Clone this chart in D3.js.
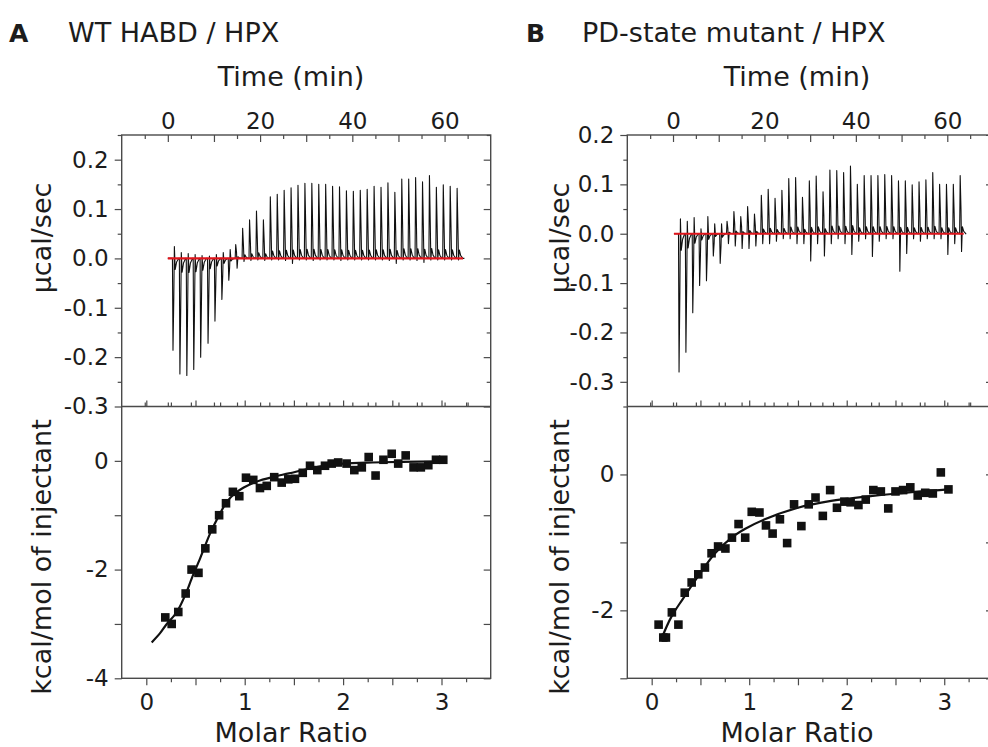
<!DOCTYPE html>
<html><head><meta charset="utf-8">
<script src="https://cdn.jsdelivr.net/npm/d3@7"></script>
<style>
body{margin:0;background:#fff}
svg{display:block}
text{font-family:"DejaVu Sans",Verdana,sans-serif;fill:#1c1c1c}
</style>
</head><body>
<svg id="c" width="988" height="747"></svg>
<script>
// ---------------- DATA ----------------
// Panel A: raw thermogram (injection times in min, peak heights in µcal/sec)
const injTimesA = [1.0,2.5,4.0,5.5,7.0,8.6,10.1,11.6,13.1,14.6,16.1,17.6,19.1,20.6,22.1,23.6,25.1,26.6,28.1,29.6,31.1,32.6,34.1,35.6,37.1,38.6,40.1,41.6,43.1,44.6,46.1,47.6,49.1,50.6,52.1,53.6,55.1,56.6,58.1,59.6,61.1,62.6];
const peaksA = [-0.186,-0.234,-0.237,-0.225,-0.200,-0.172,-0.127,-0.083,-0.044,-0.020,0.061,0.078,0.096,0.078,0.125,0.130,0.138,0.143,0.148,0.152,0.152,0.150,0.150,0.146,0.145,0.137,0.136,0.138,0.140,0.146,0.144,0.153,0.134,0.161,0.161,0.164,0.155,0.168,0.144,0.149,0.146,0.142];
const oppA = [0.024,0.012,0.010,0.008,0.006,0.005,0.008,0.012,0.018,0.028,-0.006,-0.004,-0.003,-0.004,-0.003,-0.003,-0.004,-0.010,-0.003,-0.003,-0.004,-0.003,-0.003,-0.003,-0.004,-0.003,-0.003,-0.003,-0.003,-0.003,-0.003,-0.004,-0.010,-0.003,-0.003,-0.004,-0.008,-0.003,-0.003,-0.003,-0.003,-0.003];
const baselineA = [0, 64];

// Panel B: raw thermogram
const injTimesB = [1.2,2.7,4.2,5.7,7.2,8.7,10.2,11.7,13.2,14.7,16.2,17.7,19.2,20.7,22.2,23.7,25.2,26.7,28.2,29.7,31.2,32.7,34.2,35.7,37.2,38.7,40.2,41.7,43.2,44.7,46.2,47.7,49.2,50.7,52.2,53.7,55.2,56.7,58.2,59.7,61.2,62.7];
const upB = [0.030,0.025,0.033,0.010,0.035,0.020,0.020,0.025,0.045,0.035,0.055,0.040,0.078,0.090,0.072,0.088,0.112,0.114,0.074,0.107,0.117,0.085,0.129,0.128,0.124,0.137,0.100,0.118,0.118,0.118,0.120,0.118,0.107,0.107,0.099,0.105,0.109,0.124,0.100,0.100,0.100,0.118];
const downB = [-0.280,-0.240,-0.160,-0.105,-0.095,-0.045,-0.060,-0.020,-0.025,-0.030,-0.030,-0.025,-0.020,-0.020,-0.015,-0.010,-0.010,-0.020,-0.020,-0.055,-0.020,-0.045,-0.020,-0.010,-0.020,-0.042,-0.015,-0.010,-0.046,-0.015,-0.010,-0.010,-0.076,-0.040,-0.010,-0.015,-0.010,-0.010,-0.010,-0.042,-0.020,-0.036];
const baselineB = [0.2, 63.6];

// Panel A: integrated heats (kcal/mol of injectant) vs molar ratio
const molarA = [0.193,0.258,0.325,0.40,0.46,0.53,0.60,0.67,0.74,0.81,0.88,0.945,1.013,1.087,1.155,1.224,1.30,1.376,1.443,1.511,1.59,1.664,1.738,1.816,1.884,1.95,2.036,2.114,2.19,2.26,2.33,2.41,2.494,2.56,2.636,2.716,2.79,2.866,2.944,3.018];
const heatA = [-2.88,-3.00,-2.78,-2.44,-2.00,-2.06,-1.61,-1.26,-1.00,-0.78,-0.57,-0.65,-0.31,-0.35,-0.50,-0.46,-0.30,-0.40,-0.34,-0.33,-0.22,-0.09,-0.17,-0.09,-0.05,-0.03,-0.05,-0.17,-0.12,0.07,-0.27,0.02,0.13,-0.05,0.10,-0.12,-0.12,-0.08,0.02,0.02];
const fitMolarA = [0.055,0.14,0.2,0.31,0.40,0.46,0.55,0.65,0.74,0.82,0.90,0.99,1.08,1.155,1.3,1.45,1.66,1.85,2.0,2.3,2.6,3.0];
const fitHeatA  = [-3.34,-3.17,-3.02,-2.78,-2.45,-2.17,-1.78,-1.33,-1.00,-0.75,-0.60,-0.49,-0.41,-0.36,-0.29,-0.23,-0.14,-0.08,-0.05,-0.03,-0.02,-0.01];

// Panel B: integrated heats
const molarB = [0.071,0.119,0.146,0.207,0.274,0.339,0.41,0.478,0.546,0.614,0.681,0.756,0.823,0.891,0.959,1.026,1.105,1.172,1.24,1.315,1.389,1.46,1.535,1.61,1.68,1.755,1.83,1.90,1.976,2.04,2.12,2.195,2.273,2.35,2.426,2.50,2.578,2.652,2.728,2.805,2.883,2.965,3.043];
const heatB = [-2.21,-2.40,-2.40,-2.03,-2.21,-1.74,-1.59,-1.47,-1.37,-1.16,-1.06,-1.09,-0.93,-0.73,-0.93,-0.55,-0.56,-0.75,-0.87,-0.66,-1.01,-0.44,-0.76,-0.44,-0.34,-0.61,-0.23,-0.49,-0.40,-0.41,-0.45,-0.37,-0.23,-0.25,-0.50,-0.25,-0.23,-0.19,-0.31,-0.27,-0.28,0.03,-0.22];
const fitMolarB = [0.10,0.2,0.32,0.49,0.65,0.82,0.96,1.16,1.5,1.84,2.18,2.52,3.04];
const fitHeatB  = [-2.42,-2.10,-1.83,-1.47,-1.16,-0.93,-0.80,-0.66,-0.49,-0.39,-0.33,-0.28,-0.22];

// Tick labels
const timeTickLabels = [0,20,40,60];
const molarTickLabels = [0,1,2,3];
const rateTickLabelsA = [0.2,0.1,0.0,-0.1,-0.2,-0.3];
const rateTickLabelsB = [0.2,0.1,0.0,-0.1,-0.2,-0.3];
const heatTickLabelsA = [0,-2,-4];
const heatTickLabelsB = [0,-2];

// ---------------- LAYOUT ----------------
const svg = d3.select("#c");
const TOP = 135, MID = 406.5, BOT = 678.3;
const FS_TICK = 23, FS_LAB = 27;
const AXC = "#4a4a4a";

function rng(a,b,s){const r=[];for(let v=a;v<=b+1e-9;v+=s)r.push(+v.toFixed(4));return r;}

function thermoPoints(times, A, B, t0, t1){
  const pts=[[t0,0]];
  times.forEach((t,i)=>{
    const a=A[i], b=B[i];
    const main = Math.abs(a)>=Math.abs(b)?a:b;
    const opp  = Math.abs(a)>=Math.abs(b)?b:a;
    pts.push([t,0],[t+0.12,main],[t+0.3,0.42*main],[t+0.42,opp],[t+0.6,0.12*main],[t+0.9,0.04*main],[t+1.35,0]);
  });
  pts.push([t1,0]);
  return pts;
}

function axisG(gen, transform){
  const g = svg.append("g").attr("transform",transform).call(gen);
  g.select(".domain").remove();
  g.selectAll(".tick line").attr("stroke",AXC).attr("stroke-width",1.2);
  g.selectAll(".tick text").attr("font-size",FS_TICK).attr("fill","#1c1c1c")
    .attr("font-family",'"DejaVu Sans",Verdana,sans-serif');
  return g;
}

function drawPanel(c){
  const L=c.left, R=c.right;
  const xT = d3.scaleLinear([-10,70],[L,R]);
  const yT = d3.scaleLinear(c.yTop,[MID,TOP]);
  const xM = d3.scaleLinear([-0.25,3.5],[L,R]);
  const yM = d3.scaleLinear(c.yBot,[BOT,MID]);

  // clip for data
  const cid="clip"+c.key;
  svg.append("clipPath").attr("id",cid).append("rect").attr("x",L).attr("y",TOP).attr("width",R-L).attr("height",BOT-TOP);

  // ---- top panel data ----
  const gd = svg.append("g").attr("clip-path",`url(#${cid})`);
  const tp = thermoPoints(c.times,c.A,c.B,c.baseline[0],c.baseline[1]+0.3);
  gd.append("path").datum(tp)
    .attr("d",d3.line().x(d=>xT(d[0])).y(d=>yT(d[1])))
    .attr("fill","none").attr("stroke","#111").attr("stroke-width",1.1).attr("stroke-linejoin","round");
  gd.append("path").datum(c.baseline)
    .attr("d",d3.line().x(d=>xT(d)).y(()=>yT(0)))
    .attr("stroke","#e0141b").attr("stroke-width",2.2);

  // ---- bottom panel data ----
  const fit = c.fitX.map((v,i)=>[v,c.fitY[i]]);
  gd.append("path").datum(fit)
    .attr("d",d3.line().curve(d3.curveCatmullRom.alpha(0.5)).x(d=>xM(d[0])).y(d=>yM(d[1])))
    .attr("fill","none").attr("stroke","#111").attr("stroke-width",2.2);
  const S=8.6;
  gd.selectAll(null).data(c.mx.map((v,i)=>[v,c.my[i]])).join("rect")
    .attr("x",d=>xM(d[0])-S/2).attr("y",d=>yM(d[1])-S/2)
    .attr("width",S).attr("height",S).attr("fill","#111");

  // ---- frames ----
  svg.append("rect").attr("x",L).attr("y",TOP).attr("width",R-L).attr("height",BOT-TOP)
    .attr("fill","none").attr("stroke",AXC).attr("stroke-width",1.4);
  svg.append("line").attr("x1",L).attr("x2",R).attr("y1",MID).attr("y2",MID)
    .attr("stroke",AXC).attr("stroke-width",1.4);

  // ---- top panel axes ----
  const tMinor = rng(-5,65,10), tMajor = rng(0,60,10);
  axisG(d3.axisTop(xT).tickValues(tMinor).tickSize(-4).tickFormat(""),`translate(0,${TOP})`);
  axisG(d3.axisTop(xT).tickValues(tMajor).tickSizeInner(-7).tickSizeOuter(0).tickPadding(6)
    .tickFormat(d=>timeTickLabels.includes(d)?d:""),`translate(0,${TOP})`);
  axisG(d3.axisBottom(xT).tickValues(rng(-5,65,5)).tickSize(-4).tickFormat(""),`translate(0,${MID})`);

  const r0=c.yTop[0], r1=c.yTop[1];
  const rMinor = rng(r0,r1,0.05).filter(v=>Math.abs(Math.round(v*10)-v*10)>1e-6);
  const rMajor = rng(-0.3,0.2,0.1);
  axisG(d3.axisLeft(yT).tickValues(rMinor).tickSize(4).tickFormat(""),`translate(${L},0)`);
  axisG(d3.axisLeft(yT).tickValues(rMajor).tickSize(7).tickPadding(6)
    .tickFormat(d=>c.rateLabels.some(v=>Math.abs(v-d)<1e-6)?d.toFixed(1).replace("-0.0","0.0"):""),`translate(${L},0)`);
  axisG(d3.axisRight(yT).tickValues(rMinor).tickSize(-4).tickFormat(""),`translate(${R},0)`);
  axisG(d3.axisRight(yT).tickValues(rMajor).tickSize(-7).tickFormat(""),`translate(${R},0)`);

  // ---- bottom panel axes ----
  const mMinor = rng(-0.25,3.5,0.5).filter(v=>v>-0.25&&v<3.5);
  const mMajor = rng(0,3,0.5);
  axisG(d3.axisBottom(xM).tickValues(rng(0.25,3.25,0.5)).tickSize(-4).tickFormat(""),`translate(0,${MID})`);
  axisG(d3.axisBottom(xM).tickValues(mMajor).tickSize(-6).tickFormat(""),`translate(0,${MID})`);
  axisG(d3.axisBottom(xM).tickValues(rng(0.25,3.25,0.5)).tickSize(4).tickFormat(""),`translate(0,${BOT})`);
  axisG(d3.axisBottom(xM).tickValues(mMajor).tickSize(7).tickPadding(8)
    .tickFormat(d=>molarTickLabels.includes(d)?d:""),`translate(0,${BOT})`);

  const hMajor = rng(c.yBot[0],c.yBot[1]-1,1);
  axisG(d3.axisLeft(yM).tickValues(hMajor).tickSize(7).tickPadding(6)
    .tickFormat(d=>c.heatLabels.includes(d)?d:""),`translate(${L},0)`);
  axisG(d3.axisRight(yM).tickValues(hMajor).tickSize(-7).tickFormat(""),`translate(${R},0)`);

  // ---- titles ----
  svg.append("text").attr("x",c.letterX).attr("y",42).attr("font-size",25).attr("font-weight","bold").text(c.key);
  svg.append("text").attr("x",c.titleX).attr("y",42).attr("font-size",FS_LAB).text(c.title);
  svg.append("text").attr("x",c.labCX).attr("y",86).attr("font-size",FS_LAB).attr("text-anchor","middle").text("Time (min)");
  svg.append("text").attr("x",c.labCX).attr("y",742).attr("font-size",FS_LAB).attr("text-anchor","middle").text("Molar Ratio");
  svg.append("text").attr("transform",`translate(${c.ylabX},238) rotate(-90)`).attr("font-size",FS_LAB)
    .attr("text-anchor","middle").text("µcal/sec");
  svg.append("text").attr("transform",`translate(${c.ylabX},557) rotate(-90)`).attr("font-size",FS_LAB)
    .attr("text-anchor","middle").text("kcal/mol of injectant");
}

drawPanel({key:"A",title:"WT HABD / HPX",letterX:9,titleX:68,labCX:291,ylabX:51,
  left:121.7,right:490.7,yTop:[-0.3,0.25],yBot:[-4,1],
  times:injTimesA,A:peaksA,B:oppA,baseline:baselineA,
  mx:molarA,my:heatA,fitX:fitMolarA,fitY:fitHeatA,
  rateLabels:rateTickLabelsA,heatLabels:heatTickLabelsA});
drawPanel({key:"B",title:"PD-state mutant / HPX",letterX:526,titleX:582,labCX:797,ylabX:569,
  left:627.3,right:993,yTop:[-0.35,0.2],yBot:[-3,1],
  times:injTimesB,A:upB,B:downB,baseline:baselineB,
  mx:molarB,my:heatB,fitX:fitMolarB,fitY:fitHeatB,
  rateLabels:rateTickLabelsB,heatLabels:heatTickLabelsB});
</script>
</body></html>
